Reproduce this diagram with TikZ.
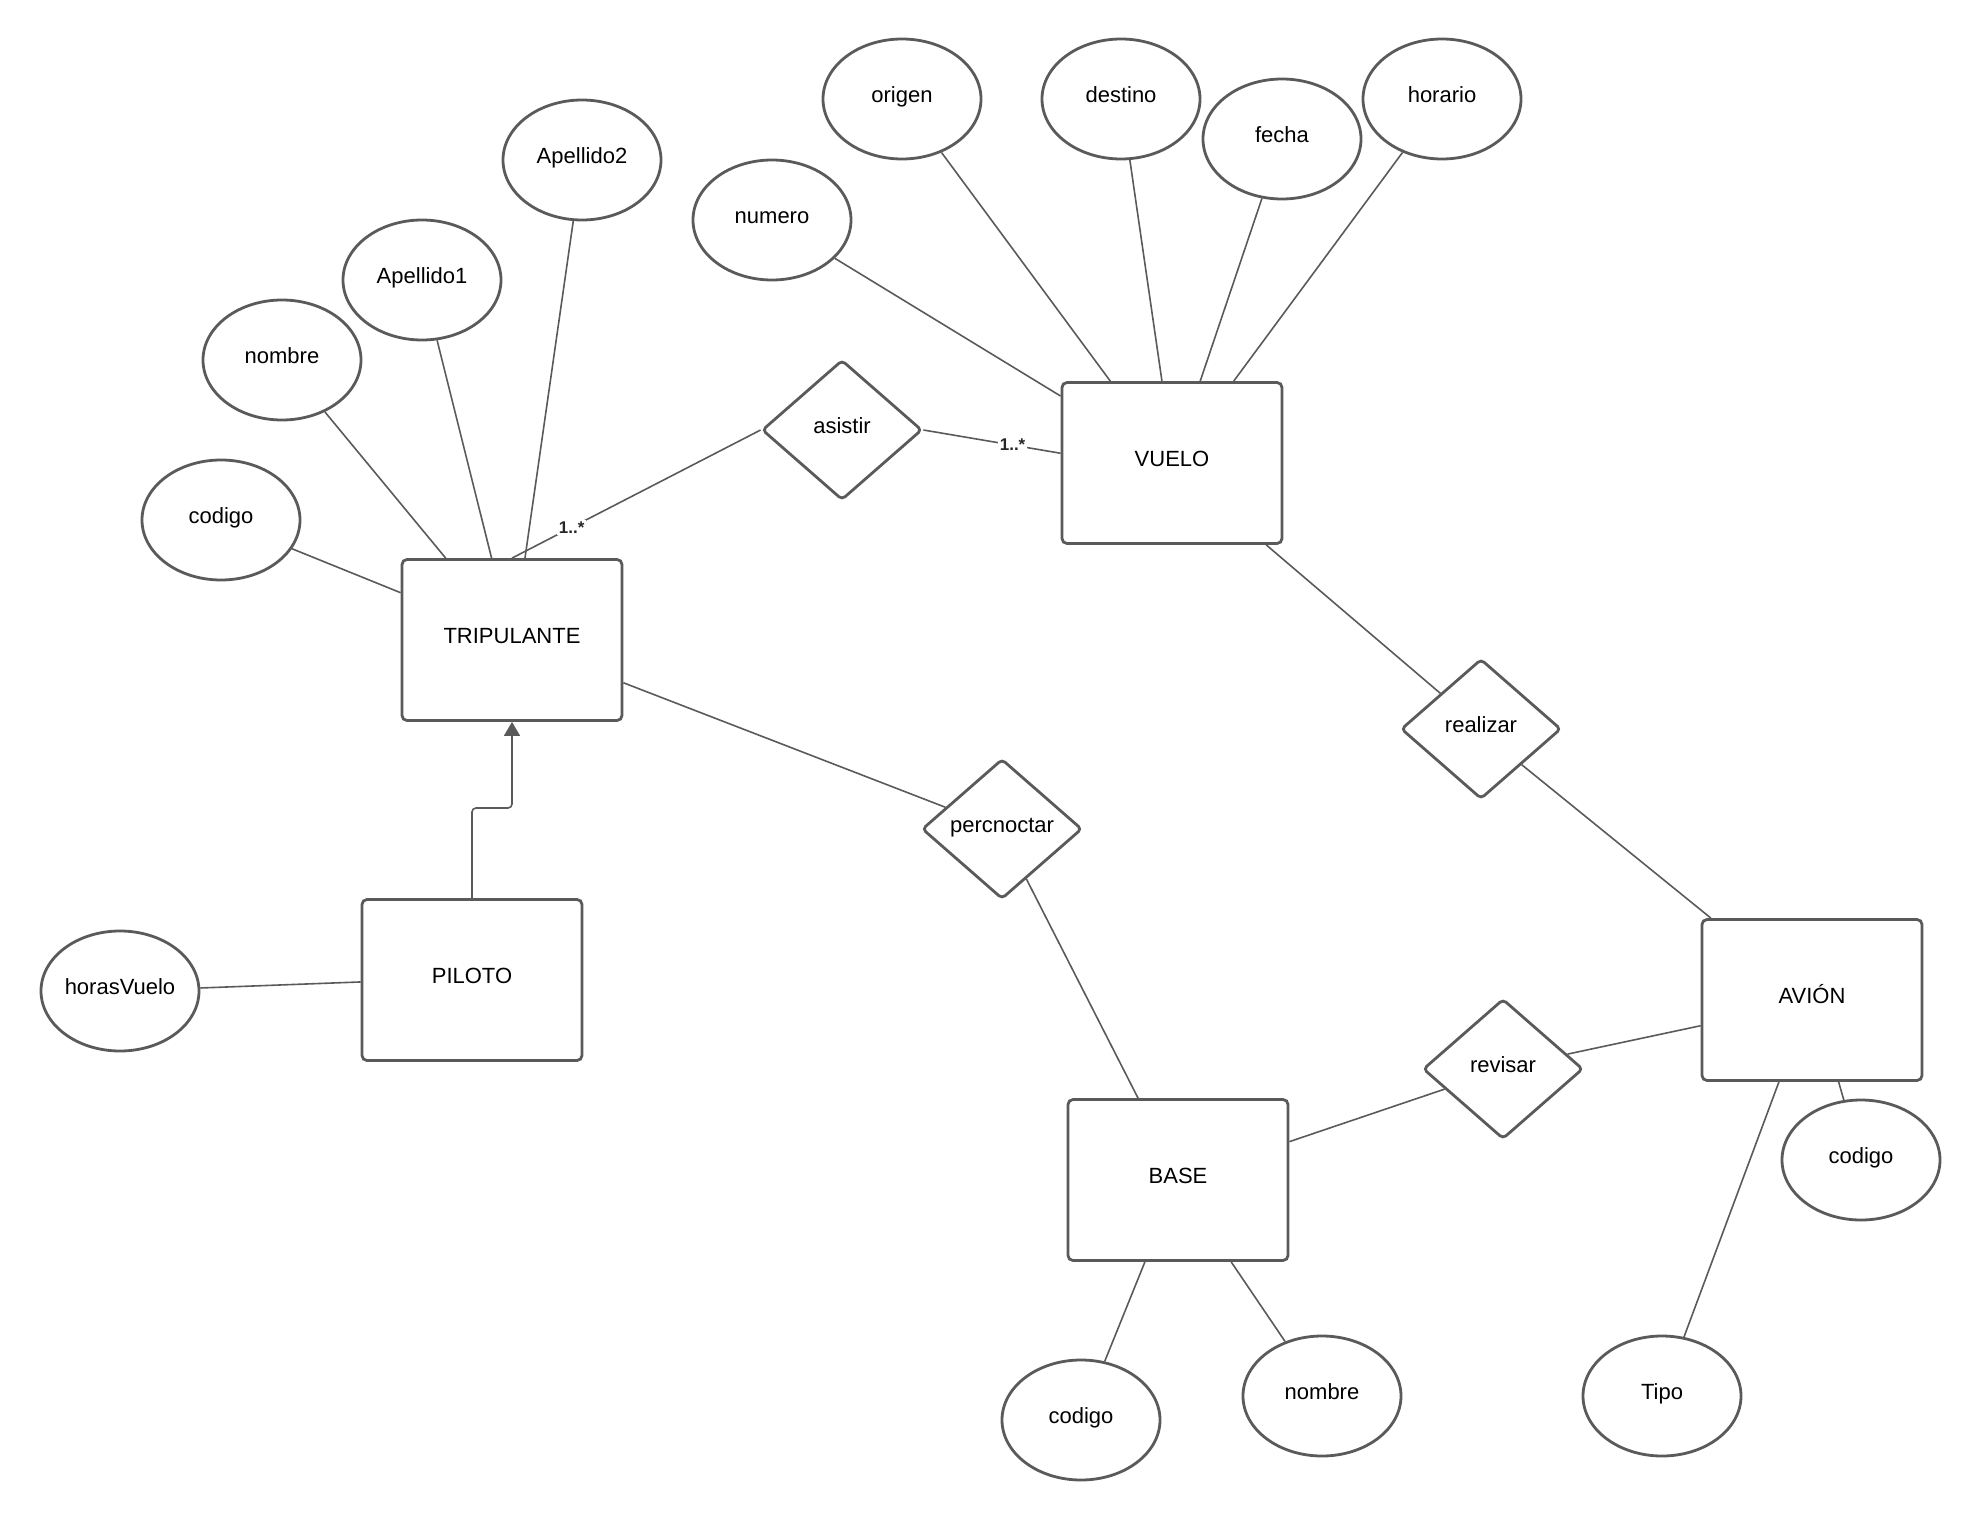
\documentclass[tikz,border=0pt]{standalone}
\usepackage{fontspec}
\setmainfont{Liberation Sans}
\usepackage{tikz}
\usetikzlibrary{arrows.meta, shapes.geometric}
\definecolor{LineGray}{HTML}{5A5A5A}

\begin{document}
\begin{tikzpicture}[x=0.5pt, y=-0.5pt]
        \useasboundingbox (0,0) rectangle (1982,1520);
        \tikzstyle{EntityStyle} = [draw = LineGray, line width = 1.4pt, rounded corners = 2.5pt,
            minimum width = 110pt, minimum height = 80.5pt, inner sep = 0pt,
            text height = 8pt, text depth = 4.9pt, font = \fontsize{11}{13}\selectfont]
        \tikzstyle{AttribStyle} = [ellipse, draw = LineGray, line width = 1.4pt,
            minimum width = 79pt, minimum height = 60pt, inner sep = 0pt,
            text height = 8pt, text depth = 4.9pt, font = \fontsize{11}{13}\selectfont]
        \tikzstyle{RelStyle} = [diamond, draw = LineGray, line width = 1.4pt, rounded corners = 2pt,
            minimum width = 80pt, minimum height = 70pt, inner sep = 0pt,
            text height = 8pt, text depth = 4.9pt, font = \fontsize{11}{13}\selectfont]
        \tikzstyle{EdgeStyle} = [draw = LineGray, line width = 0.8pt]
        \tikzstyle{LabelStyle} = [fill = white, inner sep = 1pt, text = black!85, font = \fontsize{8.5}{10}\selectfont\bfseries]
        % entidades
        \node[EntityStyle] (TRIPULANTE) at (512,640) {TRIPULANTE};
        \node[EntityStyle] (VUELO) at (1172,463) {VUELO};
        \node[EntityStyle] (PILOTO) at (472,980) {PILOTO};
        \node[EntityStyle] (BASE) at (1178,1180) {BASE};
        \node[EntityStyle] (AVION) at (1812,1000) {AVIÓN};
        % relaciones
        \node[RelStyle] (asistir) at (842,430) {asistir};
        \node[RelStyle] (realizar) at (1481,729) {realizar};
        \node[RelStyle] (percnoctar) at (1002,829) {percnoctar};
        \node[RelStyle] (revisar) at (1503,1069) {revisar};
        % atributos
        \node[AttribStyle] (codigoT) at (221,520) {codigo};
        \node[AttribStyle] (nombreT) at (282,360) {nombre};
        \node[AttribStyle] (apellido1) at (422,280) {Apellido1};
        \node[AttribStyle] (apellido2) at (582,160) {Apellido2};
        \node[AttribStyle] (numero) at (772,220) {numero};
        \node[AttribStyle] (origen) at (902,99) {origen};
        \node[AttribStyle] (destino) at (1121,99) {destino};
        \node[AttribStyle] (fecha) at (1282,139) {fecha};
        \node[AttribStyle] (horario) at (1442,99) {horario};
        \node[AttribStyle] (horasVuelo) at (120,991) {horasVuelo};
        \node[AttribStyle] (codigoB) at (1081,1420) {codigo};
        \node[AttribStyle] (nombreB) at (1322,1396) {nombre};
        \node[AttribStyle] (tipo) at (1662,1396) {Tipo};
        \node[AttribStyle] (codigoA) at (1861,1160) {codigo};
        % aristas
        \draw[EdgeStyle] (codigoT) -- (TRIPULANTE.157);
        \draw[EdgeStyle] (nombreT) -- (TRIPULANTE.129);
        \draw[EdgeStyle] (apellido1) -- (TRIPULANTE.104);
        \draw[EdgeStyle] (apellido2) -- (TRIPULANTE.81);
        \draw[EdgeStyle] (TRIPULANTE.90) -- (asistir.west) node[LabelStyle, pos = 0.24] {1..*};
        \draw[EdgeStyle] (asistir.east) -- (VUELO.175) node[LabelStyle, pos = 0.65] {1..*};
        \draw[EdgeStyle] (numero) -- (VUELO.149);
        \draw[EdgeStyle] (origen) -- (VUELO.127);
        \draw[EdgeStyle] (destino) -- (VUELO.97);
        \draw[EdgeStyle] (fecha) -- (VUELO.71);
        \draw[EdgeStyle] (horario) -- (VUELO.53);
        \draw[EdgeStyle] (VUELO.319) -- (realizar.north west);
        \draw[EdgeStyle] (realizar.south east) -- (AVION.141);
        \draw[EdgeStyle] (TRIPULANTE.339) -- (percnoctar.159);
        \draw[EdgeStyle] (percnoctar.296) -- (BASE.116);
        \draw[EdgeStyle] (BASE.19) -- (revisar.199);
        \draw[EdgeStyle] (revisar.13) -- (AVION.193);
        \draw[EdgeStyle] (AVION.288) -- (codigoA);
        \draw[EdgeStyle] (AVION.248) -- (tipo);
        \draw[EdgeStyle] (BASE.248) -- (codigoB);
        \draw[EdgeStyle] (BASE.303) -- (nombreB);
        \draw[EdgeStyle] (horasVuelo) -- (PILOTO.181);
        % herencia
        \coordinate (isabend) at (472,808);
        \draw[EdgeStyle, rounded corners = 2pt, -{Triangle[width = 8pt, length = 7pt]}]
            (PILOTO.north) -- (isabend) -| (TRIPULANTE.south);
    \end{tikzpicture}
\end{document}
